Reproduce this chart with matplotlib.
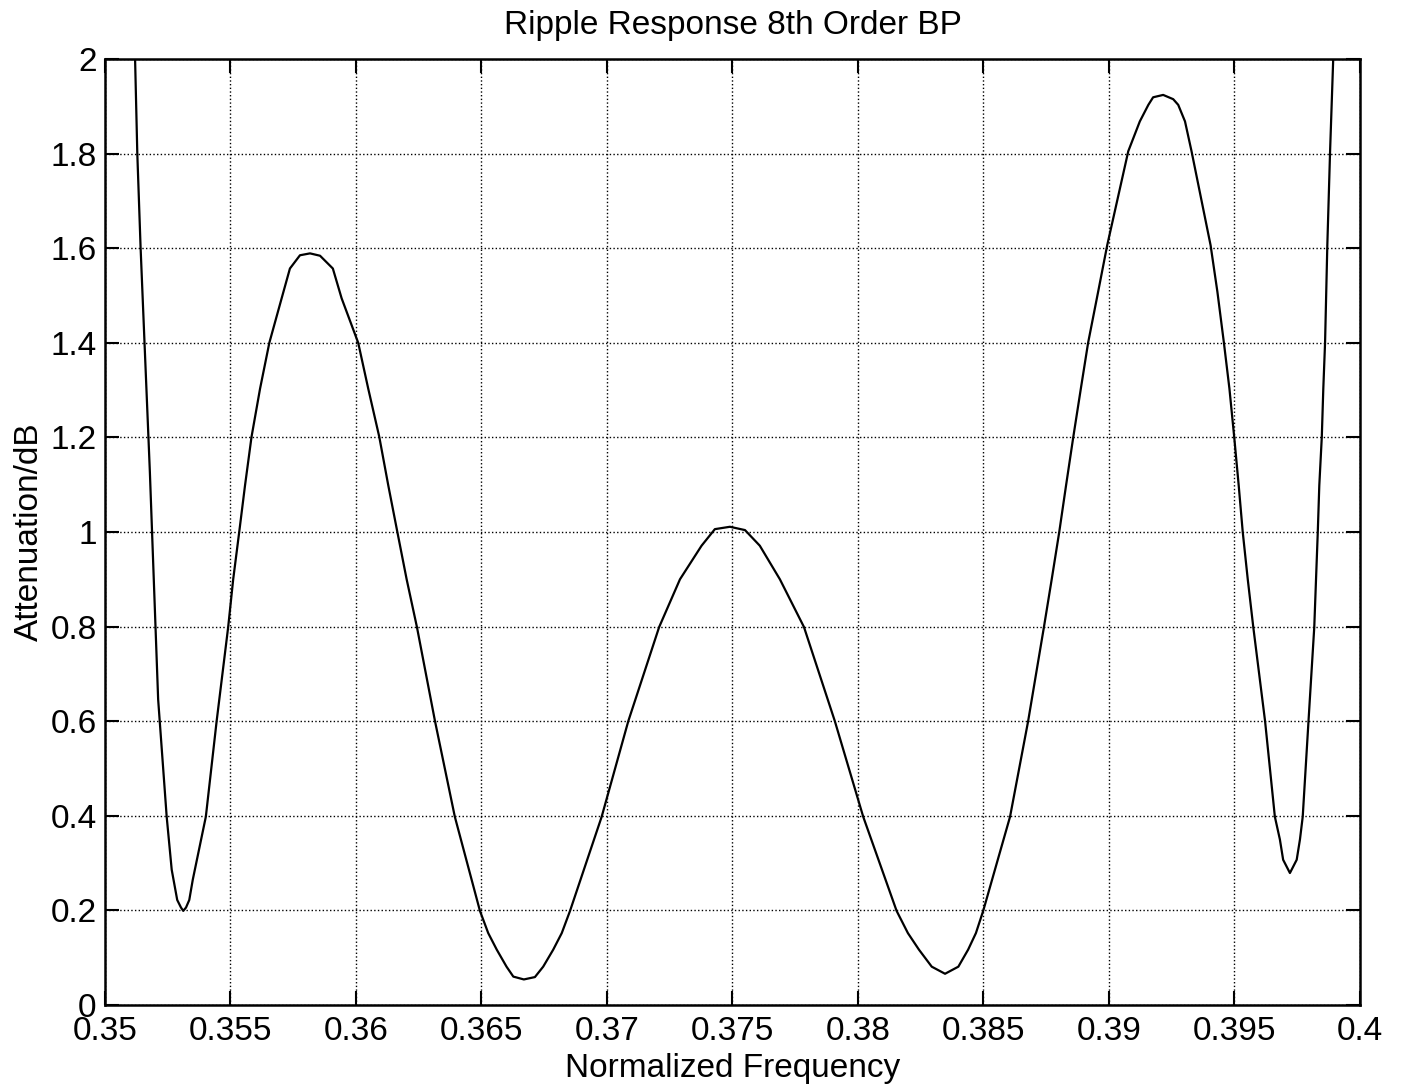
import matplotlib
matplotlib.use("Agg")
from matplotlib import pyplot as plt

frecuencia = [
    0.35118, 0.35120, 0.35129, 0.35142, 0.35157, 0.35179, 0.35212, 0.35246,
    0.35266, 0.35288, 0.35303, 0.35312, 0.35323, 0.35336, 0.35350, 0.35402,
    0.35445, 0.35491, 0.35511, 0.35535, 0.35558, 0.35584, 0.35618, 0.35655,
    0.35704, 0.35737, 0.35777, 0.35817, 0.35857, 0.35908, 0.35943, 0.36009,
    0.36049, 0.36093, 0.36129, 0.36165, 0.36202, 0.36243, 0.36315, 0.36394,
    0.36494, 0.36527, 0.36561, 0.36600, 0.36627, 0.36669, 0.36713, 0.36746,
    0.36786, 0.36820, 0.36853, 0.36979, 0.37085, 0.37208, 0.37291, 0.37377,
    0.37430, 0.37490, 0.37550, 0.37609, 0.37689, 0.37785, 0.37908, 0.38021,
    0.38154, 0.38199, 0.38243, 0.38294, 0.38347, 0.38400, 0.38439, 0.38470,
    0.38499, 0.38606, 0.38678, 0.38741, 0.38772, 0.38802, 0.38829, 0.38858,
    0.38888, 0.38917, 0.38957, 0.38993, 0.39077, 0.39123, 0.39157, 0.39176,
    0.39216, 0.39256, 0.39276, 0.39303, 0.39329, 0.39405, 0.39432, 0.39458,
    0.39480, 0.39499, 0.39517, 0.39533, 0.39553, 0.39575, 0.39622, 0.39661,
    0.39681, 0.39694, 0.39721, 0.39748, 0.39761, 0.39772, 0.39795, 0.39818,
    0.39825, 0.39832, 0.39838, 0.39848, 0.39854, 0.39861, 0.39870, 0.39881,
    0.39894, 0.39897,
]
atenuacion = [
    2.050, 2.002, 1.799, 1.602, 1.409, 1.127, 0.646, 0.398,
    0.286, 0.222, 0.206, 0.199, 0.206, 0.222, 0.265, 0.398,
    0.600, 0.799, 0.900, 1.000, 1.098, 1.201, 1.303, 1.400,
    1.494, 1.557, 1.585, 1.589, 1.584, 1.557, 1.494, 1.400,
    1.303, 1.201, 1.098, 1.000, 0.900, 0.799, 0.600, 0.398,
    0.199, 0.152, 0.117, 0.081, 0.060, 0.054, 0.059, 0.081,
    0.117, 0.152, 0.199, 0.398, 0.600, 0.799, 0.900, 0.971,
    1.006, 1.011, 1.004, 0.971, 0.900, 0.799, 0.600, 0.398,
    0.199, 0.152, 0.117, 0.081, 0.066, 0.081, 0.117, 0.152,
    0.199, 0.398, 0.600, 0.799, 0.900, 1.000, 1.098, 1.201,
    1.303, 1.400, 1.508, 1.606, 1.805, 1.868, 1.903, 1.919,
    1.924, 1.915, 1.903, 1.868, 1.805, 1.606, 1.508, 1.400,
    1.303, 1.201, 1.098, 1.000, 0.900, 0.799, 0.600, 0.398,
    0.350, 0.307, 0.279, 0.307, 0.350, 0.398, 0.600, 0.799,
    0.900, 1.000, 1.098, 1.201, 1.303, 1.400, 1.606, 1.805,
    2.008, 2.050,
]

xticks = [0.35, 0.355, 0.36, 0.365, 0.37, 0.375, 0.38, 0.385, 0.39, 0.395, 0.4]
xtick_labels = ["0.35", "0.355", "0.36", "0.365", "0.37", "0.375",
                "0.38", "0.385", "0.39", "0.395", "0.4"]
yticks = [0, 0.2, 0.4, 0.6, 0.8, 1, 1.2, 1.4, 1.6, 1.8, 2]
ytick_labels = ["0", "0.2", "0.4", "0.6", "0.8", "1", "1.2", "1.4", "1.6", "1.8", "2"]

plt.rcParams["font.family"] = ["Liberation Sans", "DejaVu Sans"]

fig = plt.figure(figsize=(14.01, 10.88), dpi=100)
ax = fig.add_axes([0.0749, 0.0763, 0.8958, 0.8695])

ax.plot(frecuencia, atenuacion, color="black", linewidth=1.6,
        solid_joinstyle="round")

ax.set_xlim(0.35, 0.4)
ax.set_ylim(0, 2)
ax.set_xticks(xticks)
ax.set_xticklabels(xtick_labels)
ax.set_yticks(yticks)
ax.set_yticklabels(ytick_labels)

ax.grid(True, color="black", linestyle=":", linewidth=1.0)
ax.tick_params(direction="in", length=10, width=1.5, top=True, right=True,
               labelsize=24, colors="black")
ax.tick_params(axis="x", pad=8)
ax.tick_params(axis="y", pad=6)
for spine in ax.spines.values():
    spine.set_linewidth(1.8)

ax.set_title("Ripple Response 8th Order BP", fontsize=24, pad=18)
ax.set_xlabel("Normalized Frequency", fontsize=24, labelpad=4)
ax.set_ylabel("Attenuation/dB", fontsize=24, labelpad=4)

fig.savefig("out.png", dpi=100, facecolor="white")
